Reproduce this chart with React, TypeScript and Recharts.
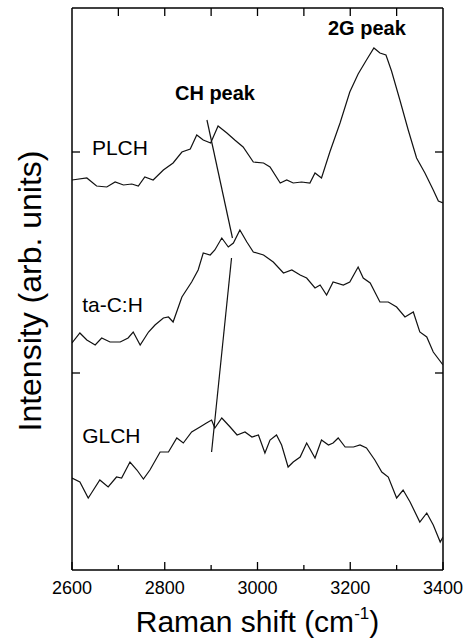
import {
  LineChart,
  Line,
  XAxis,
  YAxis,
  CartesianGrid,
  ReferenceLine,
  ReferenceDot,
} from "recharts";

const FONT = "'Liberation Sans', Arial, Helvetica, sans-serif";

// Raman shift (cm-1) / intensity (arb. units, curves stacked with offsets)
const plchShift = [
  2600, 2632, 2653, 2675, 2693, 2711, 2729, 2743, 2757, 2775, 2797, 2818, 2837,
  2855, 2869, 2883, 2899, 2915, 2934, 2951, 2969, 2991, 3013, 3027, 3049, 3063,
  3077, 3095, 3113, 3124, 3138, 3156, 3178, 3199, 3217, 3235, 3251, 3264, 3277,
  3289, 3307, 3325, 3343, 3361, 3379, 3390, 3400,
];
const plchIntensity = [
  390, 392, 384, 383, 388, 385, 386, 384, 393, 390, 400, 407, 418, 421, 435,
  430, 427, 444, 437, 430, 423, 408, 407, 403, 387, 390, 387, 388, 387, 397,
  392, 418, 447, 478, 496, 510, 522, 517, 515, 499, 470, 440, 412, 397, 380,
  369, 367,
];

const tachShift = [
  2600, 2617, 2632, 2650, 2664, 2682, 2704, 2721, 2732, 2747, 2765, 2779, 2797,
  2808, 2818, 2837, 2858, 2872, 2883, 2898, 2908, 2923, 2937, 2948, 2962, 2977,
  2991, 3013, 3034, 3056, 3074, 3092, 3106, 3124, 3135, 3149, 3163, 3185, 3199,
  3217, 3228, 3243, 3264, 3282, 3300, 3318, 3336, 3350, 3365, 3379, 3400,
];
const tachIntensity = [
  227, 237, 230, 225, 232, 228, 228, 232, 238, 225, 238, 245, 252, 253, 248,
  273, 288, 300, 317, 315, 320, 332, 323, 327, 340, 328, 318, 315, 308, 297,
  300, 295, 292, 282, 285, 275, 288, 285, 288, 303, 292, 287, 268, 268, 263,
  253, 258, 238, 233, 218, 205,
];

const glchShift = [
  2600, 2617, 2635, 2642, 2660, 2678, 2696, 2707, 2725, 2740, 2754, 2768, 2790,
  2808, 2826, 2840, 2858, 2876, 2890, 2901, 2908, 2923, 2941, 2956, 2973, 2988,
  3002, 3016, 3027, 3041, 3052, 3066, 3077, 3092, 3106, 3124, 3138, 3153, 3163,
  3174, 3189, 3207, 3221, 3235, 3253, 3268, 3282, 3300, 3314, 3329, 3350, 3365,
  3379, 3394, 3400,
];
const glchIntensity = [
  92, 88, 72, 77, 90, 83, 93, 92, 108, 100, 91, 100, 118, 118, 132, 127, 138,
  143, 147, 150, 142, 152, 143, 135, 138, 133, 135, 117, 130, 135, 125, 103,
  108, 113, 127, 112, 130, 125, 127, 132, 123, 123, 125, 122, 110, 98, 93, 72,
  80, 68, 48, 57, 45, 28, 33,
];

const xTicks = [2600, 2700, 2800, 2900, 3000, 3100, 3200, 3300, 3400];
const topTicks = [2700, 2800, 2900, 3000, 3100, 3200, 3300];
const yTicks = [197, 418];
const xMin = 2600;
const xMax = 3400;
const yMax = 562;

const sampleNames = ["PLCH", "ta-C:H", "GLCH"];
const sampleLabelShift = [2643, 2622, 2622];
const sampleLabelIntensity = [415, 258, 127];

const peakNames = ["CH peak", "2G peak"];
const peakLabelShift = [2822, 3152];
const peakLabelIntensity = [470, 535];

// CH peak guide line (two segments)
const chUpper = [
  { x: 2891, y: 450 },
  { x: 2946, y: 332 },
];
const chLower = [
  { x: 2944, y: 312 },
  { x: 2901, y: 118 },
];

const zip = (xs: number[], ys: number[]) =>
  xs.map((x, i) => ({ shift: x, intensity: ys[i] }));

const series = [
  { name: "PLCH", data: zip(plchShift, plchIntensity) },
  { name: "ta-C:H", data: zip(tachShift, tachIntensity) },
  { name: "GLCH", data: zip(glchShift, glchIntensity) },
];

function BottomTick(props: any) {
  const { x, y, payload } = props;
  const major = payload.value % 200 === 0;
  return (
    <g>
      <line x1={x} y1={y} x2={x} y2={y - (major ? 8 : 5)} stroke="#000" strokeWidth={1.3} />
      {major && (
        <text x={x} y={y + 24} textAnchor="middle" fontSize={18} fontFamily={FONT} fill="#000">
          {payload.value}
        </text>
      )}
    </g>
  );
}

function LeftTick(props: any) {
  const { x, y } = props;
  return <line x1={x} y1={y} x2={x + 8} y2={y} stroke="#000" strokeWidth={1.3} />;
}

function RightTick(props: any) {
  const { x, y } = props;
  return <line x1={x} y1={y} x2={x - 8} y2={y} stroke="#000" strokeWidth={1.3} />;
}

function XLabel(props: any) {
  const vb = props.viewBox || { x: 72, y: 570, width: 371 };
  return (
    <text x={vb.x + vb.width / 2} y={vb.y + 62} textAnchor="middle" fontSize={30} fontFamily={FONT} fill="#000">
      Raman shift (cm
      <tspan dy={-13} fontSize={17}>-1</tspan>
      <tspan dy={13}>)</tspan>
    </text>
  );
}

function YLabel(props: any) {
  const vb = props.viewBox || { x: 0, y: 8, width: 72, height: 562 };
  const cx = 41;
  const cy = vb.y + vb.height / 2 + 2;
  return (
    <text
      x={cx}
      y={cy}
      transform={`rotate(-90, ${cx}, ${cy})`}
      textAnchor="middle"
      fontSize={32}
      fontFamily={FONT}
      fill="#000"
    >
      Intensity (arb. units)
    </text>
  );
}

const textLabel = (text: string, size: number, bold: boolean) => (props: any) => {
  const vb = props.viewBox;
  return (
    <text
      x={vb.x + vb.width / 2}
      y={vb.y + vb.height / 2}
      fontSize={size}
      fontWeight={bold ? "bold" : "normal"}
      fontFamily={FONT}
      fill="#000"
    >
      {text}
    </text>
  );
};

// inward tick on the top edge, anchored at a ReferenceDot
const topTickLabel = (props: any) => {
  const vb = props.viewBox;
  const cx = vb.x + vb.width / 2;
  const cy = vb.y + vb.height / 2;
  return <line x1={cx} y1={cy} x2={cx} y2={cy + 8} stroke="#000" strokeWidth={1.3} />;
};

// frame: top edge and right edge of the plot area
const topEdge = (p: any) => [p.offset.top];
const rightEdge = (p: any) => [p.offset.left + p.offset.width];

export default function App() {
  return (
    <div style={{ position: "absolute", left: 0, top: 0, width: 468, height: 644, background: "#fff" }}>
      <LineChart width={468} height={644} margin={{ top: 8, right: 24, bottom: 0, left: 0 }}>
        <CartesianGrid
          xAxisId="b"
          yAxisId="l"
          horizontalCoordinatesGenerator={topEdge}
          verticalCoordinatesGenerator={rightEdge}
          stroke="#000"
          strokeWidth={1.5}
          strokeDasharray="0"
          fill="none"
        />
        <XAxis
          xAxisId="b"
          dataKey="shift"
          type="number"
          domain={[xMin, xMax]}
          allowDataOverflow
          ticks={xTicks}
          interval={0}
          height={74}
          tickSize={0}
          tickMargin={0}
          tickLine={false}
          tick={BottomTick}
          axisLine={{ stroke: "#000", strokeWidth: 1.5 }}
          label={XLabel}
        />
        <YAxis
          yAxisId="l"
          type="number"
          domain={[0, yMax]}
          allowDataOverflow
          ticks={yTicks}
          interval={0}
          width={72}
          tickSize={0}
          tickMargin={0}
          tickLine={false}
          tick={LeftTick}
          axisLine={{ stroke: "#000", strokeWidth: 1.5 }}
          label={YLabel}
        />
        <YAxis
          yAxisId="r"
          orientation="right"
          type="number"
          domain={[0, yMax]}
          allowDataOverflow
          ticks={yTicks}
          interval={0}
          width={1}
          tickSize={0}
          tickMargin={0}
          tickLine={false}
          tick={RightTick}
          axisLine={false}
        />
        {series.map((s) => (
          <Line
            key={s.name}
            xAxisId="b"
            yAxisId="l"
            data={s.data}
            dataKey="intensity"
            type="linear"
            stroke="#111"
            strokeWidth={1.2}
            dot={false}
            isAnimationActive={false}
          />
        ))}
        <ReferenceLine xAxisId="b" yAxisId="l" segment={chUpper} stroke="#111" strokeWidth={1.2} />
        <ReferenceLine xAxisId="b" yAxisId="l" segment={chLower} stroke="#111" strokeWidth={1.2} />
        {topTicks.map((t) => (
          <ReferenceDot
            key={`top-${t}`}
            xAxisId="b"
            yAxisId="l"
            x={t}
            y={yMax}
            r={1}
            fill="none"
            stroke="none"
            ifOverflow="visible"
            label={topTickLabel}
          />
        ))}
        {sampleNames.map((n, i) => (
          <ReferenceDot
            key={n}
            xAxisId="b"
            yAxisId="l"
            x={sampleLabelShift[i]}
            y={sampleLabelIntensity[i]}
            r={1}
            fill="none"
            stroke="none"
            label={textLabel(n, 21, false)}
          />
        ))}
        {peakNames.map((n, i) => (
          <ReferenceDot
            key={n}
            xAxisId="b"
            yAxisId="l"
            x={peakLabelShift[i]}
            y={peakLabelIntensity[i]}
            r={1}
            fill="none"
            stroke="none"
            label={textLabel(n, 20, true)}
          />
        ))}
      </LineChart>
    </div>
  );
}
